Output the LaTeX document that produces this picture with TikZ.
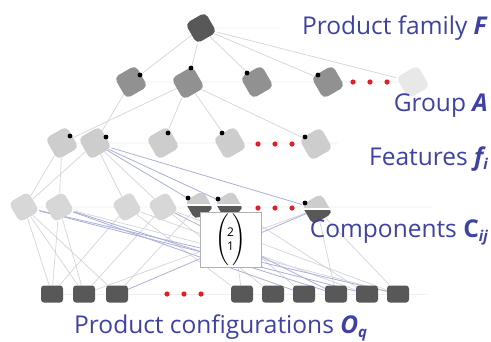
\documentclass[tikz,border=0pt]{standalone}
\usepackage{amsmath}
\usepackage{fontspec}
\setmainfont{Open Sans}
\usetikzlibrary{backgrounds}
\definecolor{lblblue}{RGB}{62,66,162}
\definecolor{dkgray}{RGB}{88,88,88}
\definecolor{mdgray}{RGB}{145,145,145}
\definecolor{ltgray}{RGB}{205,205,205}
\definecolor{edgegray}{RGB}{212,212,220}
\definecolor{edgeblue}{RGB}{172,176,216}
\definecolor{dotred}{RGB}{228,30,40}
\newcommand{\sbs}[1]{\raisebox{-0.35ex}{\fontsize{15}{15}\selectfont #1}}
\newcommand{\dg}[1]{\mbox{\fontsize{12}{12}\selectfont #1}}
\begin{document}
\begin{tikzpicture}[x=1pt,y=-1pt,line join=round,line cap=round,
	blob/.style={rectangle,rotate=30,inner sep=0pt,minimum size=24.5pt,rounded corners=5pt,fill=#1},
	conf/.style={rectangle,rounded corners=3pt,fill=dkgray,minimum width=22pt,minimum height=17pt,inner sep=0pt},
	lbl/.style={text=lblblue,font=\fontsize{24.5}{26}\selectfont,anchor=base east,inner sep=0pt},
	link/.style={edgegray,line width=0.7pt},
	blink/.style={edgeblue,line width=0.8pt},
	guide/.style={gray!12,line width=0.8pt}]
	\useasboundingbox (0,0) rectangle (491,341);
	% product family
	\node[blob=dkgray,minimum size=23pt] (F) at (201,28) {};
	% groups
	\node[blob=mdgray] (A1) at (131,82) {};
	\node[blob=mdgray] (A2) at (188,83) {};
	\node[blob=mdgray] (A3) at (257,82) {};
	\node[blob=mdgray] (A4) at (328,82) {};
	\node[blob=gray!18] (A5) at (413,82) {};
	% features
	\node[blob=ltgray] (f1) at (62,143) {};
	\node[blob=ltgray] (f2) at (95,143) {};
	\node[blob=ltgray] (f3) at (163,143) {};
	\node[blob=ltgray] (f4) at (230,143) {};
	\node[blob=ltgray] (f5) at (316,144) {};
	% components
	\node[blob=ltgray!80,minimum size=22.5pt] (c1) at (24,207) {};
	\node[blob=ltgray!80,minimum size=22.5pt] (c2) at (59,207) {};
	\node[blob=ltgray!80,minimum size=22.5pt] (c3) at (127,207) {};
	\node[blob=ltgray!80,minimum size=22.5pt] (c4) at (163,207) {};
	\node[blob=ltgray,minimum size=21pt] (c5) at (199,205) {};
	\node[blob=ltgray,minimum size=21pt] (c6) at (229,205) {};
	\node[blob=ltgray,minimum size=22.5pt] (c7) at (317,209) {};
	% lower halves of the chosen components
	\foreach \n in {c5,c6,c7} {
		\begin{scope}
			\clip[rounded corners=5pt] (\n.north west)--(\n.north east)--(\n.south east)--(\n.south west)--cycle;
			\fill[dkgray] (\n.center) ++(-20,1) rectangle ++(40,20);
			\draw[white,line width=1.2pt] (\n.center) ++(-20,0) -- ++(40,0);
		\end{scope}
	}
	% configurations
	\node[conf] (o1) at (52,294) {};
	\node[conf] (o2) at (84,294) {};
	\node[conf] (o3) at (117,294) {};
	\node[conf] (o4) at (242,294) {};
	\node[conf] (o5) at (273,294) {};
	\node[conf] (o6) at (304,294) {};
	\node[conf] (o7) at (336,294) {};
	\node[conf] (o8) at (367,294) {};
	\node[conf] (o9) at (398,294) {};
	% choice box
	\node[draw=gray!60,fill=white,line width=0.6pt,minimum width=61pt,minimum height=55pt,inner sep=0pt] (bx) at (230.5,240)
		{\fontsize{18}{18}\selectfont$\Bigg(\!\genfrac{}{}{0pt}{1}{\dg{2}}{\dg{1}}\!\Bigg)$};
	% black dots
	\foreach \n/\dx/\dy in {A1/9/-7,A2/3/-15,A3/-10/-9,A4/-10/-7,f1/8/-7,f2/11/-6,f3/5/-10,f4/-8/-10,f5/-11/-7,c5/-11/-7,c6/-11/-6,c7/-12/-6}
		\fill[black] (\n) ++(\dx,\dy) circle (2.4pt);
	% red dots
	\foreach \x in {353,370,387} \fill[dotred] (\x,82) circle (2.6pt);
	\foreach \x in {258,275,292} \fill[dotred] (\x,144) circle (2.6pt);
	\foreach \x in {258,275,292} \fill[dotred] (\x,208) circle (2.6pt);
	\foreach \x in {167,184,201} \fill[dotred] (\x,294) circle (2.6pt);
	% labels
	\node[lbl] (tF) at (488,34) {Product family \textbf{\textit{F}}};
	\node[lbl] (tA) at (488,111) {Group \textbf{\textit{A}}};
	\node[lbl] (tf) at (488,165) {Features \textbf{\textit{f\sbs{i}}}};
	\node[lbl] (tC) at (488,237) {Components \textbf{C\textit{\sbs{ij}}}};
	\node[lbl,anchor=base west] (tO) at (74,333) {Product configurations \textbf{\textit{O\sbs{q}}}};
	% links
	\begin{scope}[on background layer]
		\fill[white] (0,0) rectangle (491,341);
		\coordinate (gF) at (280,28);
		\coordinate (gf) at (338,143);
		\coordinate (gc) at (433,207);
		\coordinate (go) at (427,294);
		\draw[guide] (F)--(gF);
		\draw[guide] (A1)--(A5);
		\draw[guide] (f1)--(gf);
		\draw[guide] (c1)--(gc);
		\draw[guide] (o1)--(go);
		\foreach \t in {A1,A2,A3,A4,A5} \draw[link] (F)--(\t);
		\foreach \t in {f1,f3,f4,f5} \draw[link] (A2)--(\t);
		\draw[link] (A1)--(f2);
		\foreach \t in {c1,c2} \draw[link] (f1)--(\t);
		\foreach \t in {c1,c3,c4} \draw[link] (f2)--(\t);
		\foreach \t in {c5,c6,c7} \draw[blink] (f2)--(\t);
		\foreach \s/\t in {c1/o1,c1/o2,c1/o3,c2/o1,c2/o2,c3/o1,c3/o4,c4/o2,c4/o5,c5/o3,c5/o6,c6/o4,c6/o8,c7/o7,c7/o9,c2/o9,c3/o8,c4/o9,c7/o2}
			\draw[link] (\s)--(\t);
		\foreach \s/\t in {c1/o8,c1/o9,c2/o6,c4/o7,c7/o3,c2/o7}
			\draw[blink] (\s)--(\t);
	\end{scope}
\end{tikzpicture}
\end{document}
